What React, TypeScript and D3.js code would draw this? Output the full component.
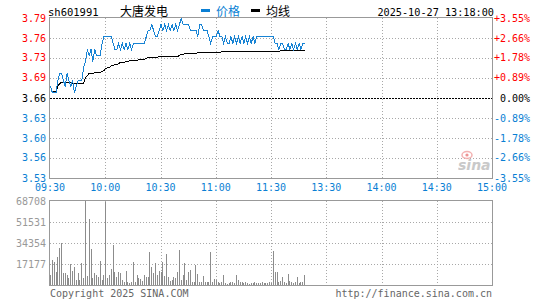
import React from "react";
import * as d3 from "d3";

const symbol = "sh601991";
const stockName = "大唐发电";
const legendPrice = "价格";
const legendAvg = "均线";
const dateText = "2025-10-27 13:18:00";
const prevClose = 3.66;
const maxPct = 3.55;

const priceTickLabels = ["3.79", "3.76", "3.73", "3.69", "3.66", "3.63", "3.60", "3.56", "3.53"];
const pctTicks = [3.55, 2.66, 1.78, 0.89, 0, -0.89, -1.78, -2.66, -3.55];
const pctTickLabels = ["+3.55%", "+2.66%", "+1.78%", "+0.89%", "0.00%", "-0.89%", "-1.78%", "-2.66%", "-3.55%"];
const timeTickMinutes = [0, 30, 60, 90, 120, 150, 180, 210, 240];
const timeTickLabels = ["09:30", "10:00", "10:30", "11:00", "11:30", "13:30", "14:00", "14:30", "15:00"];
const volTicks = [68708, 51531, 34354, 17177];
const volMax = 68708;

const prices = [
  3.68, 3.67, 3.67, 3.67, 3.69, 3.70, 3.70, 3.69, 3.68, 3.70,
  3.69, 3.68, 3.69, 3.67, 3.68, 3.69, 3.69, 3.69, 3.71, 3.72,
  3.74, 3.73, 3.74, 3.72, 3.74, 3.73, 3.73, 3.73, 3.75, 3.76,
  3.76, 3.76, 3.76, 3.76, 3.75, 3.74, 3.74, 3.75, 3.74, 3.75,
  3.74, 3.75, 3.74, 3.75, 3.74, 3.75, 3.75, 3.75, 3.75, 3.75,
  3.75, 3.75, 3.76, 3.77, 3.77, 3.78, 3.77, 3.76, 3.76, 3.77,
  3.78, 3.77, 3.78, 3.77, 3.78, 3.77, 3.78, 3.77, 3.78, 3.77,
  3.78, 3.79, 3.78, 3.78, 3.78, 3.78, 3.77, 3.77, 3.77, 3.77,
  3.76, 3.78, 3.78, 3.77, 3.77, 3.77, 3.76, 3.75, 3.76, 3.76,
  3.76, 3.77, 3.76, 3.76, 3.75, 3.76, 3.75, 3.75, 3.76, 3.75,
  3.76, 3.75, 3.76, 3.75, 3.76, 3.75, 3.76, 3.75, 3.76, 3.75,
  3.76, 3.75, 3.76, 3.76, 3.76, 3.76, 3.76, 3.76, 3.76, 3.76,
  3.76, 3.76, 3.75, 3.75, 3.74, 3.75, 3.75, 3.74, 3.74, 3.75,
  3.74, 3.75, 3.74, 3.75, 3.74, 3.75, 3.74, 3.75, 3.75,
];

const avgPrices = [
  3.680, 3.672, 3.671, 3.671, 3.680, 3.684, 3.686, 3.686, 3.686, 3.686,
  3.686, 3.686, 3.685, 3.684, 3.684, 3.684, 3.684, 3.684, 3.685, 3.694,
  3.698, 3.700, 3.701, 3.701, 3.702, 3.702, 3.703, 3.703, 3.704, 3.706,
  3.709, 3.710, 3.711, 3.713, 3.714, 3.715, 3.716, 3.717, 3.718, 3.719,
  3.719, 3.720, 3.720, 3.721, 3.721, 3.722, 3.722, 3.722, 3.723, 3.723,
  3.724, 3.724, 3.725, 3.726, 3.726, 3.727, 3.727, 3.727, 3.727, 3.728,
  3.728, 3.728, 3.728, 3.729, 3.729, 3.729, 3.729, 3.729, 3.729, 3.729,
  3.730, 3.731, 3.732, 3.733, 3.733, 3.733, 3.733, 3.733, 3.733, 3.733,
  3.734, 3.734, 3.734, 3.734, 3.734, 3.734, 3.734, 3.735, 3.735, 3.735,
  3.735, 3.735, 3.735, 3.736, 3.736, 3.736, 3.736, 3.736, 3.736, 3.736,
  3.736, 3.736, 3.736, 3.736, 3.736, 3.736, 3.736, 3.736, 3.736, 3.736,
  3.736, 3.736, 3.736, 3.736, 3.736, 3.736, 3.736, 3.736, 3.736, 3.736,
  3.737, 3.737, 3.737, 3.737, 3.737, 3.738, 3.738, 3.738, 3.738, 3.738,
  3.738, 3.738, 3.738, 3.738, 3.738, 3.738, 3.738, 3.738, 3.738,
];

const volumes = [
  8200, 20500, 18800, 10600, 22900, 30300, 34400, 9800, 9800, 8200,
  5700, 17200, 11500, 14700, 4100, 9800, 4100, 18000, 5700, 68708,
  7400, 54000, 29400, 5700, 9800, 8200, 6500, 19600, 4100, 8200,
  67900, 5700, 8200, 13100, 32700, 10600, 6500, 10600, 9800, 4100,
  2500, 11500, 2500, 1600, 2500, 18800, 2500, 8200, 5700, 4900,
  3300, 8200, 6500, 6500, 27000, 14700, 9800, 18000, 8200, 11500,
  10600, 18800, 7400, 25400, 6500, 3300, 4100, 6500, 5700, 10600,
  28600, 4100, 8200, 18000, 4100, 10600, 12300, 2500, 2500, 16400,
  9000, 2500, 2500, 7400, 2500, 2500, 2500, 27000, 2500, 4900,
  4100, 2500, 1600, 2500, 8200, 1600, 800, 1600, 2500, 2500,
  1600, 8200, 4100, 2500, 2500, 1600, 2500, 1600, 800, 1600,
  1600, 2500, 1600, 1600, 1600, 2500, 1600, 1600, 1600, 2500,
  1600, 27800, 10600, 10600, 2500, 3300, 6500, 2500, 1600, 9000,
  3300, 2500, 1600, 2500, 6500, 1600, 2500, 2500, 8200,
];

const RED = "#ff0000";
const BLUE = "#0a7fd4";
const LINE_BLUE = "#1783d4";
const GRID = "#a8a8a8";
const BORDER = "#999999";
const MONO = "'DejaVu Sans Mono', 'Liberation Mono', monospace";
const CJK = "'Noto Sans CJK SC', sans-serif";

export default function App() {
  const W = 545;
  const H = 300;
  const left = 50;
  const right = 492;
  const pTop = 18;
  const pBottom = 178;
  const vTop = 201;
  const vBottom = 285;

  const x = d3.scaleLinear().domain([0, 240]).range([left, right]);
  const yPrice = d3
    .scaleLinear()
    .domain([prevClose * (1 - maxPct / 100), prevClose * (1 + maxPct / 100)])
    .range([pBottom, pTop]);
  const yPct = d3.scaleLinear().domain([-maxPct, maxPct]).range([pBottom, pTop]);
  const yVol = d3.scaleLinear().domain([0, volMax]).range([vBottom, vTop]);

  const priceLine = d3
    .line<number>()
    .x((_, i) => x(i) + 0.5)
    .y((d) => Math.round(yPrice(d)) + 0.5);
  const avgLine = d3
    .line<number>()
    .x((_, i) => x(i) + 0.5)
    .y((d) => Math.round(yPrice(d)) + 0.5);

  const px = (v: number) => Math.round(v) + 0.5;

  const tickColor = (p: number) => (p > 0 ? RED : p < 0 ? BLUE : "#000");

  return (
    <svg
      width={W}
      height={H}
      style={{ position: "fixed", left: 0, top: 0, background: "#fff", display: "block" }}
      fontFamily={MONO}
    >
      <rect x={0} y={0} width={W} height={H} fill="#fff" />
      {/* header */}
      <text x={48} y={16} fontSize={10.5} fill="#000">{symbol}</text>
      <text x={120} y={16} fontSize={12} fontFamily={CJK} fill="#000">{stockName}</text>
      <rect x={201} y={9} width={9} height={3} fill={BLUE} />
      <text x={216} y={16} fontSize={12} fontFamily={CJK} fill={BLUE}>{legendPrice}</text>
      <rect x={251} y={9} width={9} height={3} fill="#000" />
      <text x={266} y={16} fontSize={12} fontFamily={CJK} fill="#000">{legendAvg}</text>
      <text x={494} y={16} fontSize={10.2} textAnchor="end" fill="#000">{dateText}</text>

      {/* price grid */}
      {pctTicks.map((p, i) =>
        i === 0 || i === pctTicks.length - 1 ? null : (
          <line
            key={"h" + i}
            x1={left}
            x2={right}
            y1={px(yPct(p))}
            y2={px(yPct(p))}
            stroke={p === 0 ? "#000" : GRID}
            strokeDasharray={p === 0 ? "2,1" : "1,2"}
            shapeRendering="crispEdges"
          />
        )
      )}
      {timeTickMinutes.map((m, i) =>
        i === 0 || i === timeTickMinutes.length - 1 ? null : (
          <g key={"v" + i}>
            <line x1={px(x(m))} x2={px(x(m))} y1={pTop} y2={pBottom} stroke={GRID} strokeDasharray="1,2" shapeRendering="crispEdges" />
            <line x1={px(x(m))} x2={px(x(m))} y1={vTop} y2={vBottom} stroke={GRID} strokeDasharray="1,2" shapeRendering="crispEdges" />
          </g>
        )
      )}
      <rect x={left - 0.5} y={pTop - 0.5} width={right - left + 1} height={pBottom - pTop + 1} fill="none" stroke={BORDER} shapeRendering="crispEdges" />

      {/* price axis labels */}
      {pctTicks.map((p, i) => (
        <g key={"l" + i}>
          <text x={46} y={yPct(p) + 3.5} fontSize={10} textAnchor="end" fill={tickColor(p)}>
            {priceTickLabels[i]}
          </text>
          <text x={530} y={yPct(p) + 3.5} fontSize={10} textAnchor="end" fill={tickColor(p)}>
            {pctTickLabels[i]}
          </text>
        </g>
      ))}

      {/* time labels */}
      {timeTickMinutes.map((m, i) => (
        <text key={"t" + i} x={x(m)} y={191} fontSize={10} textAnchor="middle" fill={BLUE}>
          {timeTickLabels[i]}
        </text>
      ))}

      {/* watermark */}
      <g opacity={0.9}>
        <ellipse cx={467} cy={155} rx={5} ry={3.5} fill="none" stroke="#f2aaaa" strokeWidth={1.5} />
        <circle cx={467} cy={155} r={1.6} fill="#e88" />
        <text x={458} y={170} fontSize={14} fontStyle="italic" fontWeight="bold" fontFamily="'DejaVu Sans', sans-serif" fill="#c4c4c4">
          sina
        </text>
      </g>

      {/* lines */}
      <path d={avgLine(avgPrices) || ""} fill="none" stroke="#000" strokeWidth={1} shapeRendering="crispEdges" />
      <path d={priceLine(prices) || ""} fill="none" stroke={LINE_BLUE} strokeWidth={1} shapeRendering="crispEdges" />

      {/* volume panel */}
      {volTicks.map((v, i) =>
        i === 0 ? null : (
          <line key={"vg" + i} x1={left} x2={right} y1={px(yVol(v))} y2={px(yVol(v))} stroke={GRID} strokeDasharray="1,2" shapeRendering="crispEdges" />
        )
      )}
      {volumes.map((v, i) => (
        <line
          key={"b" + i}
          x1={px(x(i))}
          x2={px(x(i))}
          y1={vBottom}
          y2={Math.round(yVol(v))}
          stroke="#8c8c8c"
          shapeRendering="crispEdges"
        />
      ))}
      <rect x={left - 0.5} y={vTop - 0.5} width={right - left + 1} height={vBottom - vTop + 1} fill="none" stroke={BORDER} shapeRendering="crispEdges" />
      {volTicks.map((v, i) => (
        <text key={"vl" + i} x={46} y={yVol(v) + 3.5} fontSize={10} textAnchor="end" fill="#999">
          {v}
        </text>
      ))}

      {/* footer */}
      <text x={50} y={297} fontSize={10} fill="#666">Copyright 2025 SINA.COM</text>
      <text x={492} y={297} fontSize={10} textAnchor="end" fill="#666">http://finance.sina.com.cn</text>
    </svg>
  );
}
